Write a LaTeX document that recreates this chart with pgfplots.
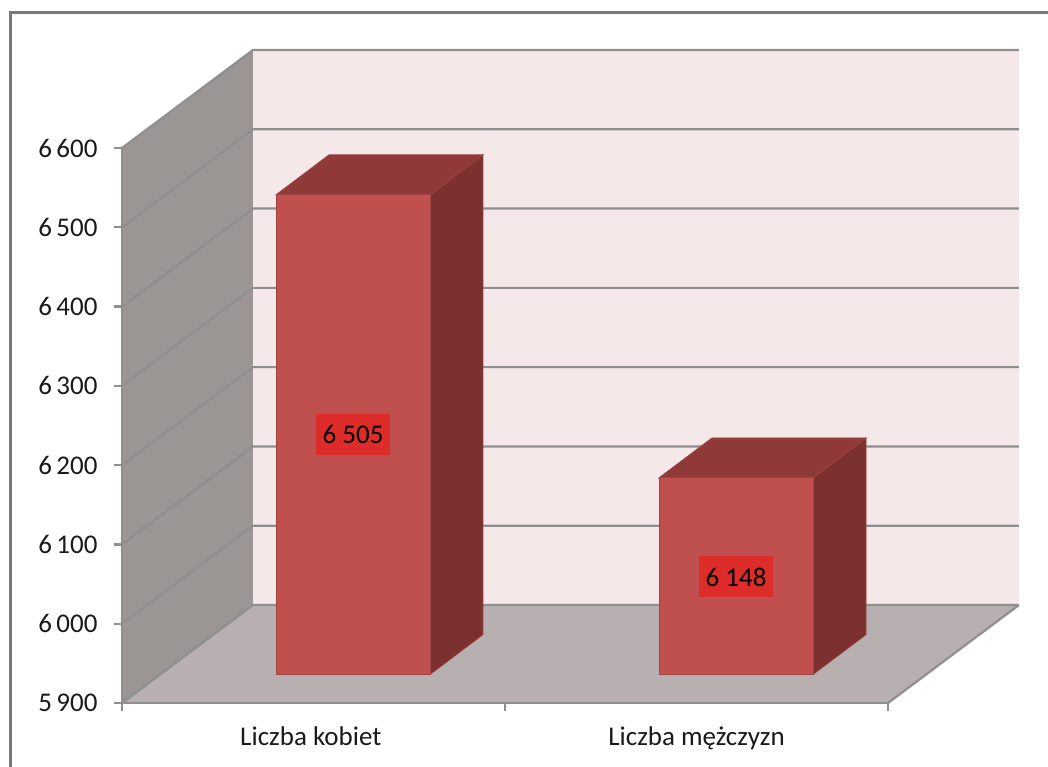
\documentclass[border=0pt]{standalone}
\usepackage{pgfplots}
\pgfplotsset{compat=1.18}
\usepackage{fontspec}
\setmainfont{Carlito}
\definecolor{wallback}{HTML}{F4E8E8}
\definecolor{wallleft}{HTML}{9B9594}
\definecolor{floorc}{HTML}{B8B0B0}
\definecolor{gridc}{HTML}{8F8F8F}
\definecolor{front}{HTML}{C0504D}
\definecolor{sidec}{HTML}{7C302F}
\definecolor{topc}{HTML}{8F3A39}
\definecolor{edgec}{HTML}{A04543}
\definecolor{labelc}{HTML}{DD2C2A}
\definecolor{textc}{HTML}{1A1A1A}
\begin{document}
\begin{tikzpicture}[x=1pt,y=1pt]
\useasboundingbox (0,0) rectangle (1048,766);
\clip (0,0) rectangle (1048,766);
\draw[draw=gray!95!black,line width=3pt] (10,-2) -- (10,753) -- (1050,753);
% chart frame: x 0..2 maps to 122..888 px, y 5900..6600 maps to 703..148 px
\begin{axis}[
  at={(122pt,63pt)},anchor=south west,
  width=766pt,height=555pt,scale only axis,
  xmin=0,xmax=2,ymin=5900,ymax=6600,clip=false,
  axis on top,
  axis x line=bottom,axis y line=left,
  axis line style={-,draw=gridc,line width=2.2pt},
  tick style={draw=gridc,line width=2.2pt},
  tick align=outside,major tick length=8pt,
  xtick={0,1,2},xticklabels={},
  extra x ticks={0.493,1.5},
  extra x tick labels={Liczba kobiet,Liczba mężczyzn},
  extra x tick style={major tick length=0pt,tick style={draw=none}},
  ytick={5900,6000,6100,6200,6300,6400,6500,6600},
  /pgf/number format/.cd,assume math mode=true,1000 sep={\hspace{0.16em}},
  /pgfplots/.cd,
  tick label style={font=\fontsize{27}{31}\selectfont,text=textc},
  xticklabel style={yshift=-20pt},
  yticklabel style={xshift=-13pt},
]
\addplot[fill=wallback,draw=none] coordinates {(0.342,6023.6)(2.342,6023.6)(2.342,6723.6)(0.342,6723.6)} -- cycle;
\addplot[fill=wallleft,draw=none] coordinates {(0,5900)(0.342,6023.6)(0.342,6723.6)(0,6600)} -- cycle;
\addplot[fill=floorc,draw=none] coordinates {(0,5900)(2,5900)(2.342,6023.6)(0.342,6023.6)} -- cycle;
\addplot[draw=gridc,line width=2.2pt] coordinates {(0,5900)(0.342,6023.6)(2.342,6023.6)};
\addplot[draw=gridc,line width=2.2pt] coordinates {(0,6000)(0.342,6123.6)(2.342,6123.6)};
\addplot[draw=gridc,line width=2.2pt] coordinates {(0,6100)(0.342,6223.6)(2.342,6223.6)};
\addplot[draw=gridc,line width=2.2pt] coordinates {(0,6200)(0.342,6323.6)(2.342,6323.6)};
\addplot[draw=gridc,line width=2.2pt] coordinates {(0,6300)(0.342,6423.6)(2.342,6423.6)};
\addplot[draw=gridc,line width=2.2pt] coordinates {(0,6400)(0.342,6523.6)(2.342,6523.6)};
\addplot[draw=gridc,line width=2.2pt] coordinates {(0,6500)(0.342,6623.6)(2.342,6623.6)};
\addplot[draw=gridc,line width=2.2pt] coordinates {(0,6600)(0.342,6723.6)(2.342,6723.6)};
\addplot[draw=gridc,line width=2.2pt] coordinates {(2,5900)(2.342,6023.6)};
\end{axis}
% bars stand 39 px right and 29 px up of the front plane
\begin{axis}[
  at={(161.5pt,91.5pt)},anchor=south west,
  width=766pt,height=555pt,scale only axis,
  xmin=0,xmax=2,ymin=5900,ymax=6600,clip=false,
  hide axis,
]
\addplot[fill=sidec,draw=edgec!70!sidec,line width=0.8pt] coordinates {(0.701,5900)(0.8394,5950.4)(0.8394,6555.4)(0.701,6505)} -- cycle;
\addplot[fill=topc,draw=edgec!70!topc,line width=0.8pt] coordinates {(0.299,6505)(0.4374,6555.4)(0.8394,6555.4)(0.701,6505)} -- cycle;
\addplot[fill=sidec,draw=edgec!70!sidec,line width=0.8pt] coordinates {(1.701,5900)(1.8394,5950.4)(1.8394,6198.4)(1.701,6148)} -- cycle;
\addplot[fill=topc,draw=edgec!70!topc,line width=0.8pt] coordinates {(1.299,6148)(1.4374,6198.4)(1.8394,6198.4)(1.701,6148)} -- cycle;
\addplot[ybar,bar width=154pt,bar shift=0pt,fill=front,draw=edgec,line width=1pt] coordinates {(0.5,6505)(1.5,6148)};
\addplot[draw=none,point meta=explicit symbolic,nodes near coords,
  every node near coord/.append style={anchor=center,fill=labelc,text=black,
    font=\fontsize{27}{31}\selectfont,minimum width=74pt,minimum height=41pt,inner sep=0pt,yshift=0pt}]
  coordinates {(0.5,6202.5)[6 505] (1.5,6023)[6 148]};
\end{axis}
\end{tikzpicture}
\end{document}
